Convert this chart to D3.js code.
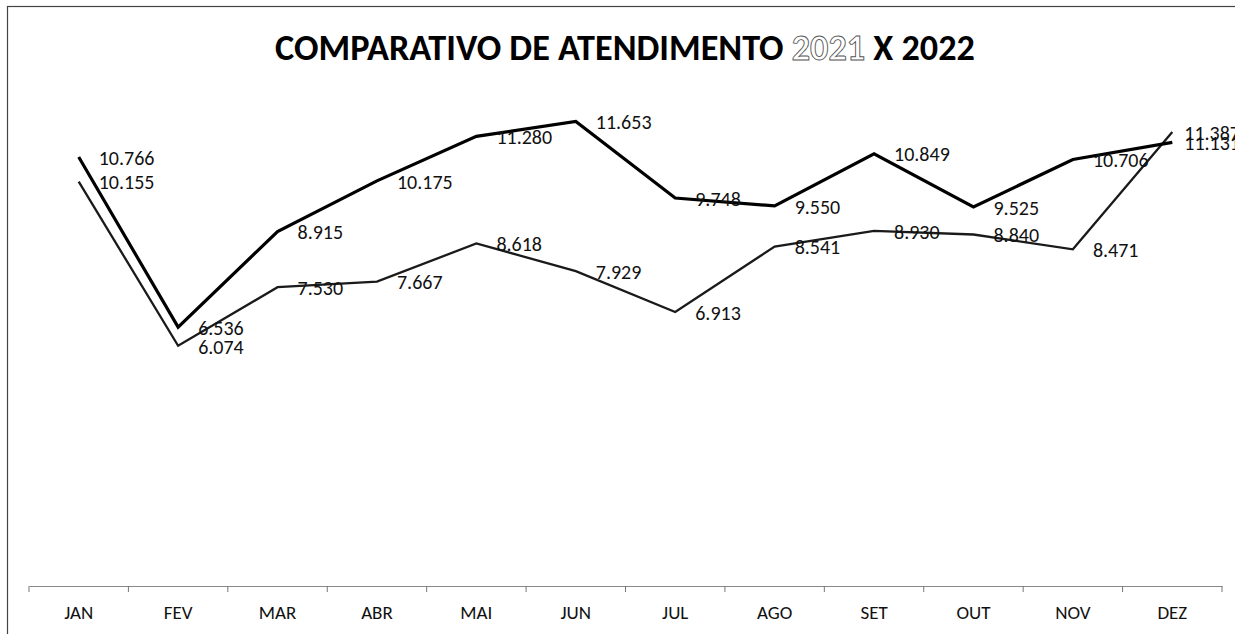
<!DOCTYPE html>
<html>
<head>
<meta charset="utf-8">
<script src="https://cdn.jsdelivr.net/npm/d3@7"></script>
<style>
  html, body { margin: 0; padding: 0; background: #fff; }
  svg { display: block; }
  text { font-family: Carlito, Calibri, Lato, sans-serif; }
</style>
</head>
<body>
<svg id="chart"></svg>
<script>
// ---------------- DATA ----------------
const months = ["JAN","FEV","MAR","ABR","MAI","JUN","JUL","AGO","SET","OUT","NOV","DEZ"];
const values2021 = [10155, 6074, 7530, 7667, 8618, 7929, 6913, 8541, 8930, 8840, 8471, 11387];
const values2022 = [10766, 6536, 8915, 10175, 11280, 11653, 9748, 9550, 10849, 9525, 10706, 11131];
const yDomain = [0, 14000];

const W = 1235, H = 634;
const fmt = v => d3.format(",")(v).replace(/,/g, ".");

const svg = d3.select("#chart").attr("width", W).attr("height", H);

// chart border
svg.append("rect")
  .attr("x", 7.5).attr("y", 6.5)
  .attr("width", W + 20).attr("height", H + 20)
  .attr("fill", "none")
  .attr("stroke", "#444")
  .attr("stroke-width", 1.2);

// ---------------- TITLE ----------------
const title = svg.append("text")
  .attr("x", 625).attr("y", 60)
  .attr("text-anchor", "middle")
  .attr("font-weight", "bold")
  .attr("font-size", 32)
  .attr("fill", "#000");
title.append("tspan").text("COMPARATIVO DE ATENDIMENTO ");
title.append("tspan").text("2021")
  .attr("fill", "#fff").attr("stroke", "#555").attr("stroke-width", 0.9);
title.append("tspan").text(" X 2022");

// fit title to the width seen in the picture
const tw = title.node().getComputedTextLength();
title.attr("font-size", 32 * 700 / tw);

// ---------------- SCALES ----------------
const x = d3.scaleBand().domain(months).range([29, 1222]);
const y = d3.scaleLinear().domain(yDomain).range([590, 27]);
const cx = m => x(m) + x.bandwidth() / 2;

// ---------------- AXIS ----------------
const axis = svg.append("g")
  .attr("transform", "translate(0,586)")
  .call(d3.axisBottom(x).tickSize(0).tickPadding(20));
axis.select(".domain").attr("stroke", "#888").attr("stroke-width", 1);
axis.selectAll("text")
  .attr("font-size", 19)
  .attr("fill", "#111")
  .style("font-family", "Carlito, Calibri, Lato, sans-serif");

// tick marks on band boundaries
const bounds = months.map(m => x(m)).concat([x.range()[1]]);
axis.selectAll(".bound").data(bounds).enter()
  .append("line")
  .attr("class", "bound")
  .attr("x1", d => d).attr("x2", d => d)
  .attr("y1", 0).attr("y2", 6)
  .attr("stroke", "#777");

// ---------------- LINES ----------------
const line = d3.line().x(d => cx(d.m)).y(d => y(d.v));
const series = [
  { name: "2021", vals: values2021, width: 2.3, color: "#1a1a1a" },
  { name: "2022", vals: values2022, width: 3.2, color: "#000" }
];

series.forEach(s => {
  const pts = months.map((m, i) => ({ m, v: s.vals[i] }));
  svg.append("path")
    .datum(pts)
    .attr("fill", "none")
    .attr("stroke", s.color)
    .attr("stroke-width", s.width)
    .attr("stroke-linejoin", "miter")
    .attr("d", line);
});

// ---------------- LABELS ----------------
series.forEach(s => {
  months.forEach((m, i) => {
    const t = svg.append("text")
      .attr("y", y(s.vals[i]) + 3)
      .attr("dominant-baseline", "middle")
      .attr("font-size", 20)
      .attr("fill", "#111")
      .text(fmt(s.vals[i]));
    const len = t.node().getComputedTextLength();
    // keep labels inside chart area like the spreadsheet does
    t.attr("x", Math.min(cx(m) + 20, 1240 - len));
  });
});
</script>
</body>
</html>
